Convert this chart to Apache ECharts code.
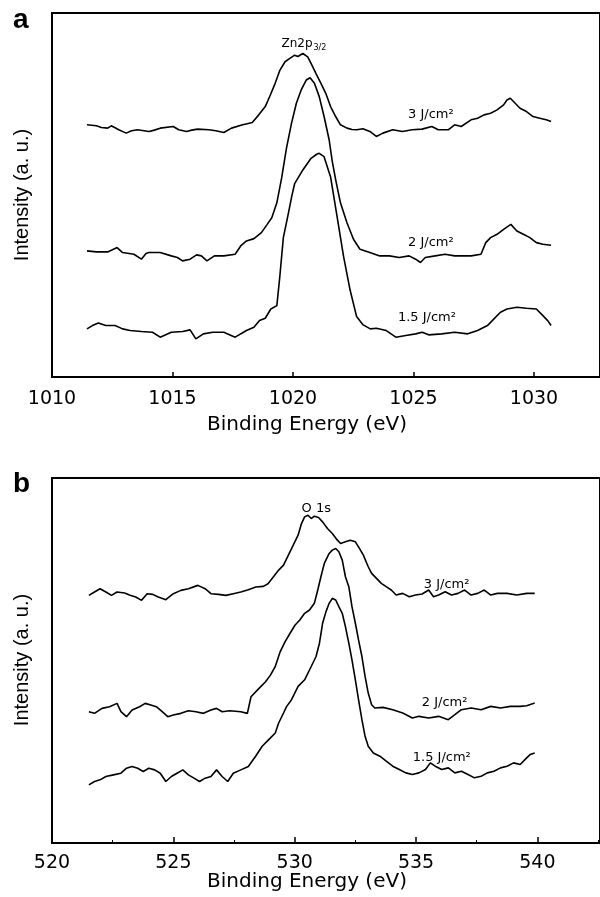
<!DOCTYPE html>
<html><head><meta charset="utf-8">
<script src="https://cdn.jsdelivr.net/npm/echarts@6/dist/echarts.min.js"></script>
<style>html,body{margin:0;padding:0;background:#fff}#c{width:600px;height:897px}</style>
</head><body><div id="c"></div>
<script>
// ---------- Panel a : Zn 2p3/2 ----------
const eA3 = [1011.45,1011.84,1012.05,1012.31,1012.46,1012.77,1013.08,1013.30,1013.55,1014.02,1014.25,1014.49,1015.03,1015.26,1015.58,1015.80,1016.04,1016.51,1016.80,1017.13,1017.45,1017.91,1018.10,1018.31,1018.58,1018.85,1019.06,1019.26,1019.46,1019.67,1019.87,1020.07,1020.20,1020.28,1020.41,1020.61,1020.75,1020.95,1021.16,1021.36,1021.56,1021.77,1021.97,1022.24,1022.45,1022.65,1022.90,1023.19,1023.46,1023.73,1024.14,1024.54,1024.95,1025.36,1025.76,1026.03,1026.44,1026.71,1026.98,1027.39,1027.66,1027.93,1028.20,1028.47,1028.74,1028.88,1029.02,1029.22,1029.42,1029.69,1029.96,1030.24,1030.51,1030.71];
const iA3 = [760,757,752,750,757,745,735,742,745,740,744,750,755,745,740,744,747,745,742,737,750,760,763,767,790,815,850,885,925,950,960,970,966,970,975,965,945,915,885,855,815,785,760,750,746,745,748,740,725,735,745,740,745,747,755,745,745,760,755,775,780,790,795,805,820,835,840,825,810,800,785,780,775,770];

const eA2 = [1011.45,1011.84,1012.31,1012.55,1012.70,1012.93,1013.40,1013.71,1013.90,1014.02,1014.49,1014.95,1015.20,1015.42,1015.73,1016.00,1016.20,1016.43,1016.74,1017.13,1017.60,1017.83,1018.07,1018.38,1018.69,1018.93,1019.12,1019.33,1019.53,1019.73,1019.94,1020.14,1020.34,1020.55,1020.71,1020.89,1021.09,1021.29,1021.50,1021.63,1021.77,1021.97,1022.24,1022.51,1022.78,1023.19,1023.60,1024.00,1024.41,1024.82,1025.09,1025.29,1025.49,1025.90,1026.31,1026.71,1026.98,1027.39,1027.80,1028.00,1028.20,1028.47,1028.74,1029.04,1029.29,1029.56,1029.83,1030.10,1030.37,1030.71];
const iA2 = [380,377,377,385,390,375,370,355,372,375,375,365,360,350,355,368,365,350,365,365,370,395,410,417,435,460,480,525,600,690,765,825,865,895,902,885,845,785,715,650,595,525,465,415,385,375,365,365,360,365,355,345,360,365,370,365,365,365,370,405,420,430,445,460,440,430,420,405,400,397];

const eA15 = [1011.45,1011.68,1011.92,1012.23,1012.62,1012.93,1013.24,1013.71,1014.17,1014.49,1014.95,1015.42,1015.73,1015.97,1016.28,1016.67,1017.13,1017.60,1018.07,1018.38,1018.61,1018.85,1019.08,1019.33,1019.45,1019.60,1019.80,1019.95,1020.07,1020.41,1020.75,1021.00,1021.09,1021.29,1021.56,1021.83,1022.10,1022.37,1022.64,1022.91,1023.21,1023.46,1023.87,1024.27,1024.68,1025.09,1025.36,1025.63,1026.17,1026.71,1027.25,1027.66,1028.07,1028.34,1028.61,1028.88,1029.29,1029.69,1030.10,1030.37,1030.57,1030.71];
const iA15 = [145,155,163,155,155,145,140,137,135,120,135,137,142,115,130,135,135,120,140,150,170,177,205,215,300,420,490,545,583,624,659,672,674,664,603,483,363,262,182,157,145,147,140,120,125,130,135,127,130,135,130,140,155,175,195,205,210,207,205,185,170,155];

// ---------- Panel b : O 1s ----------
const eB3 = [521.52,521.75,521.98,522.22,522.45,522.68,522.99,523.22,523.45,523.69,523.92,524.15,524.38,524.69,525.00,525.31,525.62,526.01,526.31,526.55,526.86,527.16,527.47,527.78,528.09,528.40,528.71,528.90,529.07,529.34,529.54,529.74,529.94,530.14,530.28,530.41,530.55,530.68,530.81,530.98,531.15,531.35,531.55,531.76,531.89,532.09,532.29,532.50,532.63,532.83,533.03,533.17,533.37,533.57,533.77,533.98,534.18,534.45,534.72,534.98,535.25,535.52,535.72,535.93,536.20,536.46,536.73,537.00,537.27,537.54,537.81,538.08,538.35,538.75,539.15,539.56,539.89];
const iB3 = [745,755,765,755,745,755,752,745,740,730,750,748,740,732,750,760,765,775,765,750,748,745,750,755,762,770,772,780,796,821,836,866,896,926,961,981,986,976,983,979,966,946,931,911,901,906,911,906,891,866,831,811,796,781,771,761,746,751,741,746,749,761,741,746,756,746,751,761,746,751,761,746,751,751,746,751,751];

const eB2 = [521.52,521.75,522.06,522.37,522.68,522.84,523.07,523.30,523.61,523.84,524.07,524.30,524.54,524.77,525.00,525.31,525.62,525.93,526.24,526.55,526.78,527.01,527.32,527.78,528.05,528.20,528.53,528.80,529.00,529.20,529.40,529.60,529.81,530.01,530.21,530.41,530.61,530.81,530.95,531.08,531.22,531.42,531.55,531.69,531.82,531.96,532.09,532.23,532.36,532.50,532.63,532.77,532.90,533.03,533.17,533.30,533.64,534.04,534.45,534.85,535.12,535.52,535.93,536.33,536.60,536.87,537.27,537.68,538.08,538.48,538.89,539.29,539.56,539.89];
const iB2 = [395,390,405,410,420,395,380,400,410,420,415,410,395,380,385,390,398,395,390,400,405,395,398,395,390,440,465,485,505,531,575,605,631,655,671,691,701,721,761,801,841,871,881,886,876,851,801,771,711,661,611,561,501,451,416,406,408,401,391,376,381,376,381,371,386,401,406,401,411,406,411,411,413,421];

const eB15 = [521.52,521.75,521.98,522.22,522.53,522.84,523.07,523.30,523.53,523.76,523.99,524.23,524.46,524.69,524.92,525.15,525.39,525.62,525.85,526.08,526.31,526.55,526.78,527.01,527.24,527.47,527.78,528.09,528.39,528.66,528.93,529.20,529.34,529.54,529.67,529.87,530.14,530.41,530.68,530.88,531.02,531.15,531.29,531.42,531.55,531.69,531.82,531.96,532.09,532.23,532.36,532.50,532.63,532.77,532.90,533.03,533.24,533.51,533.77,534.04,534.31,534.58,534.85,535.12,535.39,535.59,535.79,536.06,536.33,536.60,536.87,537.14,537.41,537.68,537.94,538.21,538.48,538.75,539.02,539.29,539.56,539.70,539.89];
const iB15 = [175,185,190,200,205,210,225,230,225,215,225,220,210,185,200,210,220,205,195,185,195,200,220,200,185,210,220,230,261,291,311,331,361,391,411,431,471,491,531,561,601,661,696,721,736,731,711,691,651,601,551,491,431,371,321,291,271,261,246,231,221,211,206,211,221,241,231,221,226,211,216,206,196,201,211,216,226,231,241,236,256,266,271];

// axis ranges and texts
const xRangeA = [1010, 1032.74];
const xRangeB = [520, 542.58];
const yRangeA = [0, 1097];
const yRangeB = [0, 1098];
const xTitle = 'Binding Energy (eV)';
const yTitle = 'Intensity (a. u.)';
// annotations: [energy, intensity, text]
const notesA = [[1025.72, 792, '3 J/cm²'], [1025.72, 404, '2 J/cm²'], [1025.56, 178, '1.5 J/cm²']];
const peakA = [1020.52, 1003, 'Zn2p', '3/2'];
const notesB = [[536.26, 776, '3 J/cm²'], [536.18, 421, '2 J/cm²'], [536.06, 256, '1.5 J/cm²'], [530.89, 1007, 'O 1s']];

function pairs(xs, ys) { return xs.map((x, i) => [x, ys[i]]); }

const chart = echarts.init(document.getElementById('c'), null, {renderer: 'canvas'});
const tickFont = {fontFamily: 'DejaVu Sans', fontSize: 19, color: '#000'};
function xAxisCfg(gi, range, minor, tickLen, margin) {
  return {
    type: 'value', gridIndex: gi, min: range[0], max: range[1], interval: 5,
    axisLine: {show: true, onZero: false, lineStyle: {color: '#000', width: 2}},
    axisTick: {show: true, inside: true, length: tickLen, lineStyle: {color: '#000', width: 1.5}},
    minorTick: {show: minor, splitNumber: 2, length: 3, lineStyle: {color: '#000', width: 1}},
    axisLabel: Object.assign({}, tickFont, {margin: margin, showMaxLabel: false,
      formatter: v => (Math.abs(v % 5) < 1e-6 ? String(v) : '')}),
    splitLine: {show: false}
  };
}
function yAxisCfg(gi, range) {
  return {type: 'value', gridIndex: gi, min: range[0], max: range[1], show: false, splitLine: {show: false}};
}
function lineSeries(gi, xs, ys) {
  return {type: 'line', xAxisIndex: gi, yAxisIndex: gi, data: pairs(xs, ys), showSymbol: false,
    symbol: 'none', lineStyle: {color: '#000', width: 1.6}, silent: true, animation: false};
}

chart.setOption({
  animation: false,
  backgroundColor: '#fff',
  grid: [
    {left: 52, top: 13, width: 561, height: 364, show: true, borderColor: '#000', borderWidth: 2},
    {left: 52, top: 478, width: 560, height: 365, show: true, borderColor: '#000', borderWidth: 2}
  ],
  xAxis: [xAxisCfg(0, xRangeA, false, 5, 13), xAxisCfg(1, xRangeB, true, 6, 11)],
  yAxis: [yAxisCfg(0, yRangeA), yAxisCfg(1, yRangeB)],
  series: [
    lineSeries(0, eA3, iA3), lineSeries(0, eA2, iA2), lineSeries(0, eA15, iA15),
    lineSeries(1, eB3, iB3), lineSeries(1, eB2, iB2), lineSeries(1, eB15, iB15)
  ]
});

const noteFont = 'DejaVu Sans';
const g = [];
function addNotes(gi, list) {
  list.forEach(n => {
    const p = chart.convertToPixel({gridIndex: gi}, [n[0], n[1]]);
    g.push({type: 'text', x: p[0], y: p[1], silent: true,
      style: {text: n[2], fontFamily: noteFont, fontSize: 13, fill: '#000', align: 'center', verticalAlign: 'middle'}});
  });
}
addNotes(0, notesA);
addNotes(1, notesB);
const pz = chart.convertToPixel({gridIndex: 0}, [peakA[0], peakA[1]]);
g.push({type: 'text', x: pz[0] + 7, y: pz[1], silent: true,
  style: {text: peakA[2], fontFamily: noteFont, fontSize: 12, fill: '#000', align: 'right', verticalAlign: 'middle'}});
g.push({type: 'text', x: pz[0] + 8, y: pz[1] + 4, silent: true,
  style: {text: peakA[3], fontFamily: noteFont, fontSize: 8, fill: '#000', align: 'left', verticalAlign: 'middle'}});
// axis titles and panel letters
[[195], [660]].forEach((c, i) => {
  g.push({type: 'text', x: 22, y: c[0], rotation: Math.PI / 2, silent: true,
    style: {text: yTitle, fontFamily: 'Liberation Sans', fontSize: 20, fill: '#000', align: 'center', verticalAlign: 'middle'}});
});
[425, 882].forEach(y => {
  g.push({type: 'text', x: 307, y: y, silent: true,
    style: {text: xTitle, fontFamily: 'DejaVu Sans', fontSize: 20, fill: '#000', align: 'center', verticalAlign: 'middle'}});
});
[['a', 6], ['b', 470]].forEach(l => {
  g.push({type: 'text', x: 13, y: l[1], silent: true,
    style: {text: l[0], fontFamily: 'Liberation Sans', fontWeight: 'bold', fontSize: 28, fill: '#000', align: 'left', verticalAlign: 'top'}});
});
chart.setOption({graphic: g});
</script>
</body></html>
